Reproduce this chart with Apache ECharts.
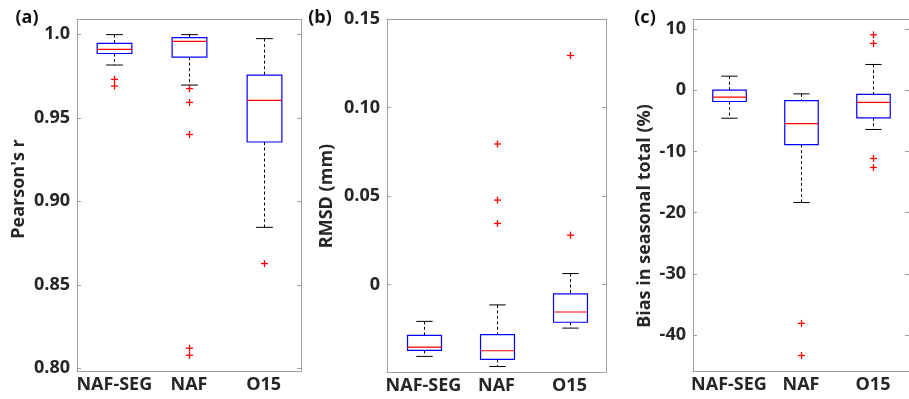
<!DOCTYPE html>
<html>
<head>
<meta charset="utf-8">
<script src="https://cdn.jsdelivr.net/npm/echarts@6/dist/echarts.min.js"></script>
<style>
html,body{margin:0;padding:0;background:#fff;}
#chart{width:909px;height:399px;}
</style>
</head>
<body>
<div id="chart"></div>
<script>
const categories = ['NAF-SEG', 'NAF', 'O15'];

// (a) Pearson's r
const rLow  = [0.9816, 0.9696, 0.8844];
const rQ1   = [0.9885, 0.9863, 0.9355];
const rMed  = [0.9910, 0.9958, 0.9604];
const rQ3   = [0.9946, 0.9980, 0.9755];
const rHigh = [0.9998, 0.9998, 0.9974];
const rOut  = [[0, 0.973], [0, 0.969], [1, 0.9675], [1, 0.9592], [1, 0.940], [1, 0.812], [1, 0.8078], [2, 0.8627]];
const rTicks = [0.80, 0.85, 0.90, 0.95, 1.0];
const rTickLabels = ['0.80', '0.85', '0.90', '0.95', '1.0'];

// (b) RMSD (mm)
const dLow  = [-0.0406, -0.0463, -0.0246];
const dQ1   = [-0.0372, -0.0423, -0.0213];
const dMed  = [-0.0353, -0.0374, -0.0155];
const dQ3   = [-0.0287, -0.0283, -0.0053];
const dHigh = [-0.0208, -0.0115, 0.0062];
const dOut  = [[1, 0.0794], [1, 0.0477], [1, 0.0345], [2, 0.1294], [2, 0.0279]];
const dTicks = [0, 0.05, 0.10, 0.15];
const dTickLabels = ['0', '0.05', '0.10', '0.15'];

// (c) Bias in seasonal total (%)
const bLow  = [-4.58, -18.35, -6.42];
const bQ1   = [-1.85, -8.88, -4.52];
const bMed  = [-1.14, -5.45, -2.0];
const bQ3   = [0.0, -1.69, -0.7];
const bHigh = [2.29, -0.6, 4.2];
const bOut  = [[1, -38.1], [1, -43.35], [2, 9.04], [2, 7.63], [2, -11.16], [2, -12.63]];
const bTicks = [-40, -30, -20, -10, 0, 10];
const bTickLabels = ['-40', '-30', '-20', '-10', '0', '10'];

const panels = [
  {low: rLow, q1: rQ1, med: rMed, q3: rQ3, high: rHigh, out: rOut, ticks: rTicks, labels: rTickLabels,
   min: 0.79838, max: 1.00916, grid: {left: 77, top: 19, width: 224, height: 352}},
  {low: dLow, q1: dQ1, med: dMed, q3: dQ3, high: dHigh, out: dOut, ticks: dTicks, labels: dTickLabels,
   min: -0.0494, max: 0.15, grid: {left: 387, top: 19, width: 219, height: 353}},
  {low: bLow, q1: bQ1, med: bMed, q3: bQ3, high: bHigh, out: bOut, ticks: bTicks, labels: bTickLabels,
   min: -45.88, max: 11.63, grid: {left: 693, top: 19, width: 226, height: 352}}
];

const FONT = '"Open Sans", sans-serif';
const TXT = '#262626';
const AX = '#a0a0a0';
const LBL = 18;

const grids = [], xAxes = [], yAxes = [], series = [];

panels.forEach((p, i) => {
  grids.push(Object.assign({containLabel: false}, p.grid));
  // bottom x
  xAxes.push({
    type: 'category', gridIndex: i, data: categories, position: 'bottom',
    axisLine: {onZero: false, lineStyle: {color: AX, width: 1}},
    axisTick: {inside: true, alignWithLabel: true, length: 4, lineStyle: {color: AX}},
    axisLabel: {interval: 0, color: TXT, fontFamily: FONT, fontWeight: 'bold', fontSize: LBL, margin: 5}
  });
  // top x
  xAxes.push({
    type: 'category', gridIndex: i, data: categories, position: 'top',
    axisLine: {onZero: false, lineStyle: {color: AX, width: 1}},
    axisTick: {inside: true, alignWithLabel: true, length: 4, lineStyle: {color: AX}},
    axisLabel: {show: false}
  });
  // left y
  yAxes.push({
    type: 'value', gridIndex: i, position: 'left', min: p.min, max: p.max,
    splitLine: {show: false},
    axisLine: {show: true, onZero: false, lineStyle: {color: AX, width: 1}},
    axisTick: {show: true, inside: true, length: 4, lineStyle: {color: AX}, customValues: p.ticks},
    axisLabel: {color: TXT, fontFamily: FONT, fontWeight: 'bold', fontSize: LBL, margin: 7,
      customValues: p.ticks,
      formatter: v => { const k = p.ticks.findIndex(t => Math.abs(t - v) < 1e-9); return k >= 0 ? p.labels[k] : ''; }}
  });
  // right y
  yAxes.push({
    type: 'value', gridIndex: i, position: 'right', min: p.min, max: p.max,
    splitLine: {show: false},
    axisLine: {show: true, onZero: false, lineStyle: {color: AX, width: 1}},
    axisTick: {show: true, inside: true, length: 4, lineStyle: {color: AX}, customValues: p.ticks},
    axisLabel: {show: false, customValues: p.ticks}
  });

  const boxData = categories.map((c, k) => [k, p.low[k], p.q1[k], p.med[k], p.q3[k], p.high[k]]);
  series.push({
    type: 'custom', xAxisIndex: 2 * i, yAxisIndex: 2 * i, data: boxData,
    encode: {x: 0, y: [1, 2, 3, 4, 5]},
    silent: true, animation: false,
    renderItem: function (params, api) {
      const x = api.value(0);
      const pl = api.coord([x, api.value(1)]);
      const pq1 = api.coord([x, api.value(2)]);
      const pm = api.coord([x, api.value(3)]);
      const pq3 = api.coord([x, api.value(4)]);
      const ph = api.coord([x, api.value(5)]);
      const band = api.size([1, 0])[0];
      const bw = band * 0.465, cw = band * 0.225;
      const cx = Math.round(pm[0]) + 0.5;
      const dash = {stroke: '#000', lineWidth: 1, lineDash: [3, 2.5]};
      return {
        type: 'group',
        children: [
          {type: 'line', shape: {x1: cx, y1: ph[1], x2: cx, y2: pq3[1]}, style: dash},
          {type: 'line', shape: {x1: cx, y1: pq1[1], x2: cx, y2: pl[1]}, style: dash},
          {type: 'line', shape: {x1: cx - cw / 2, y1: ph[1], x2: cx + cw / 2, y2: ph[1]}, style: {stroke: '#000', lineWidth: 1}},
          {type: 'line', shape: {x1: cx - cw / 2, y1: pl[1], x2: cx + cw / 2, y2: pl[1]}, style: {stroke: '#000', lineWidth: 1}},
          {type: 'rect', shape: {x: cx - bw / 2, y: pq3[1], width: bw, height: pq1[1] - pq3[1]},
           style: {fill: 'rgba(0,0,0,0)', stroke: '#0000ff', lineWidth: 1.2}},
          {type: 'line', shape: {x1: cx - bw / 2, y1: pm[1], x2: cx + bw / 2, y2: pm[1]}, style: {stroke: '#ff0000', lineWidth: 1.2}}
        ]
      };
    }
  });
  series.push({
    type: 'custom', xAxisIndex: 2 * i, yAxisIndex: 2 * i, data: p.out,
    encode: {x: 0, y: 1}, silent: true, animation: false,
    renderItem: function (params, api) {
      const pt = api.coord([api.value(0), api.value(1)]);
      const cx = Math.round(pt[0]) + 0.5, cy = pt[1], s = 3.5;
      return {
        type: 'group',
        children: [
          {type: 'line', shape: {x1: cx - s, y1: cy, x2: cx + s, y2: cy}, style: {stroke: '#ff0000', lineWidth: 1.3}},
          {type: 'line', shape: {x1: cx, y1: cy - s, x2: cx, y2: cy + s}, style: {stroke: '#ff0000', lineWidth: 1.3}}
        ]
      };
    }
  });
});

const titleFont = 'bold 18px ' + FONT;
const graphic = [
  {type: 'text', x: 27, y: 18, style: {text: '(a)', font: 'bold 18px ' + FONT, fill: '#111', align: 'center', verticalAlign: 'middle'}},
  {type: 'text', x: 320, y: 18, style: {text: '(b)', font: 'bold 18px ' + FONT, fill: '#111', align: 'center', verticalAlign: 'middle'}},
  {type: 'text', x: 645, y: 18, style: {text: '(c)', font: 'bold 18px ' + FONT, fill: '#111', align: 'center', verticalAlign: 'middle'}},
  {type: 'text', x: 19, y: 189, rotation: Math.PI / 2, style: {text: "Pearson's r", font: titleFont, fill: TXT, align: 'center', verticalAlign: 'middle'}},
  {type: 'text', x: 327, y: 196, rotation: Math.PI / 2, style: {text: 'RMSD (mm)', font: titleFont, fill: TXT, align: 'center', verticalAlign: 'middle'}},
  {type: 'text', x: 645, y: 216, rotation: Math.PI / 2, style: {text: 'Bias in seasonal total (%)', font: titleFont, fill: TXT, align: 'center', verticalAlign: 'middle'}}
];

const chart = echarts.init(document.getElementById('chart'), null, {renderer: 'canvas'});
chart.setOption({
  backgroundColor: '#fff',
  animation: false,
  grid: grids,
  xAxis: xAxes,
  yAxis: yAxes,
  series: series,
  graphic: graphic
});
</script>
</body>
</html>
